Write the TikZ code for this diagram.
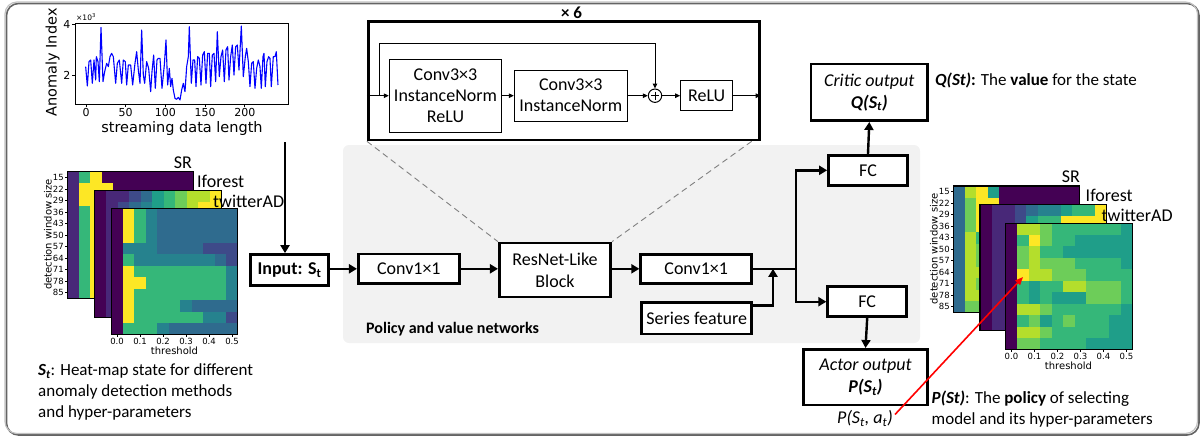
\documentclass[tikz,border=0pt]{standalone}
\usepackage{fontspec}
\setmainfont{Carlito}
\newfontfamily\mpl{DejaVu Sans}
\usepackage{tikz}
\usetikzlibrary{arrows.meta,calc,positioning}
\definecolor{v0}{HTML}{440154}
\definecolor{v1}{HTML}{482878}
\definecolor{v2}{HTML}{3E4A89}
\definecolor{v3}{HTML}{2F6B8E}
\definecolor{v4}{HTML}{26828E}
\definecolor{v5}{HTML}{1F9E89}
\definecolor{v6}{HTML}{35B779}
\definecolor{v7}{HTML}{6DCD59}
\definecolor{v8}{HTML}{B4DE2C}
\definecolor{v9}{HTML}{FDE725}
\definecolor{panelgray}{HTML}{F2F2F2}
\definecolor{framegray}{HTML}{A6A6A6}

% one heat-map panel: top-left corner, rows of colour levels
\newcommand{\hmap}[2]{%
  \begin{scope}[shift={#1}]
    \foreach \row [count=\hr from 0] in {#2}{
      \foreach \val [count=\hc from 0] in \row
        \fill[v\val] (\hc*11.5,\hr*11.5) rectangle ++(11.9,11.9);
    }
    \draw[line width=1.2pt] (0,0) rectangle (126.5,126.5);
  \end{scope}}

\begin{document}
\begin{tikzpicture}[x=1pt,y=-1pt,
    box/.style={draw, line width=2.7pt, fill=white, align=center, inner sep=2pt, font=\fontsize{18}{22}\selectfont},
    ibox/.style={draw, line width=1pt, fill=white, align=center, inner sep=2pt, font=\fontsize{18}{21}\selectfont},
    arr/.style={line width=2.4pt, -{Triangle[length=8pt,width=9pt]}},
    iarr/.style={line width=1pt, -{Triangle[length=5pt,width=4.5pt]}},
    note/.style={font=\fontsize{17}{21}\selectfont, align=left, inner sep=0pt},
    hlab/.style={font=\fontsize{18}{20}\selectfont, inner sep=0pt},
    tlab/.style={font=\mpl\fontsize{8.5}{9}\selectfont, inner sep=0pt},
    alab/.style={font=\mpl\fontsize{10}{11}\selectfont, inner sep=0pt}
  ]
  \useasboundingbox (0,0) rectangle (1204,442);

  % frame and network panel
  \draw[framegray!60!black, line width=1.6pt, rounded corners=12pt] (6.5,3.5) rectangle (1199,435);
  \draw[framegray!70, line width=1.2pt, rounded corners=12pt] (5,2) rectangle (1197.5,433.5);
  \fill[panelgray, rounded corners=6pt] (343,145) rectangle (920,343);

  % streaming data plot
  \draw[line width=0.7pt] (75,23) rectangle (288,104);
  \foreach \t [count=\k from 0] in {0,50,100,150,200}{
    \draw[line width=0.7pt] (86+\k*39.7,104) -- ++(0,3);
    \node[font=\mpl\fontsize{11}{12}\selectfont, inner sep=0pt, anchor=north] at (86+\k*39.7,108) {\t};
  }
  \foreach \t/\yy in {4/24,2/75}{
    \draw[line width=0.7pt] (75,\yy) -- ++(-3,0);
    \node[font=\mpl\fontsize{11}{12}\selectfont, inner sep=0pt, anchor=east] at (70.5,\yy) {\t};
  }
  \node[font=\mpl\fontsize{7.5}{8}\selectfont, inner sep=0pt, anchor=west] at (76,17.5) {×10\textsuperscript{3}};
  \node[font=\mpl\fontsize{14.5}{15}\selectfont, inner sep=0pt, rotate=90] (ylab) at (52.5,62.5) {Anomaly Index};
  \node[font=\mpl\fontsize{14.5}{15}\selectfont, inner sep=0pt] (xlab) at (182,128) {streaming data length};
  \begin{scope}[shift={(70,10)}, x=0.3333pt, y=-0.3333pt]
    \draw[blue, line width=1.1pt, line join=round] plot coordinates {(47,170)(52,228)(57,155)(62,150)(67,220)(72,150)(77,210)(79,140)(84,155)(88,215)(93,52)(99,215)(104,185)(110,160)(115,170)(120,140)(125,130)(130,140)(137,220)(142,160)(148,150)(155,220)(160,150)(166,155)(170,225)(175,165)(182,165)(188,225)(195,160)(200,125)(205,180)(210,220)(215,60)(220,195)(224,220)(230,155)(236,175)(242,245)(246,185)(251,135)(256,235)(261,150)(265,145)(270,145)(276,235)(283,165)(288,90)(293,225)(298,175)(302,230)(306,205)(310,240)(315,265)(320,268)(325,262)(330,270)(335,240)(340,220)(345,245)(350,170)(355,140)(358,50)(364,220)(369,150)(374,150)(378,230)(383,140)(388,145)(393,225)(398,135)(403,125)(408,220)(413,130)(418,130)(422,230)(427,135)(432,130)(437,215)(442,65)(448,200)(453,140)(458,120)(463,215)(468,120)(473,110)(477,210)(482,140)(487,105)(492,195)(497,110)(502,105)(507,180)(514,48)(520,200)(526,140)(530,115)(535,155)(540,230)(545,160)(550,155)(555,235)(560,175)(565,150)(570,170)(574,235)(579,140)(582,130)(586,230)(591,155)(596,140)(600,145)(604,230)(610,140)(615,140)(619,125)(624,225)};
  \end{scope}
  \coordinate (plotfoot) at (285,142);

  % input heat-maps
  \hmap{(67.3,171.7)}{{1,6,9,0,0,0,0,0,0,0,0},{1,9,9,9,0,0,0,0,0,0,0},{1,9,9,9,0,0,0,0,0,0,0},{1,6,9,9,0,0,0,0,0,0,0},{1,6,9,9,0,0,0,0,0,0,0},{1,6,9,9,0,0,0,0,0,0,0},{1,6,9,9,0,0,0,0,0,0,0},{1,6,9,9,0,0,0,0,0,0,0},{1,6,9,9,0,0,0,0,0,0,0},{1,6,9,9,0,0,0,0,0,0,0},{1,6,9,9,0,0,0,0,0,0,0}}
  \hmap{(94.7,190.7)}{{0,1,1,2,3,5,6,7,8,8,9},{0,1,2,3,4,5,6,7,8,9,9},{0,1,1,2,3,4,5,6,7,8,9},{0,1,1,2,3,4,5,6,7,8,9},{0,1,1,2,3,4,5,6,7,8,9},{0,1,1,2,3,4,5,6,7,8,9},{0,1,1,2,3,4,5,6,7,8,9},{0,1,1,2,3,4,5,6,7,8,9},{0,1,1,2,3,4,5,6,7,8,9},{0,1,1,2,3,4,5,6,7,8,9},{0,1,1,2,3,4,5,6,7,8,9}}
  \hmap{(111.3,208.3)}{{0,9,6,4,3,3,3,3,3,3,3},{0,9,6,4,3,3,3,3,3,3,3},{0,9,6,4,3,3,3,3,3,3,3},{0,4,4,4,3,3,3,3,2,2,2},{0,6,4,4,4,4,4,4,4,3,2},{0,9,6,6,6,6,6,6,6,6,4},{0,9,9,6,6,6,6,6,6,6,4},{0,9,6,6,6,6,6,6,6,6,4},{0,9,6,6,6,6,4,3,3,3,3},{0,9,6,6,6,6,6,6,4,4,2},{0,6,6,6,4,3,3,3,3,3,3}}
  \node[hlab, anchor=east] (srl) at (192,163) {SR};
  \node[hlab, anchor=west] (ifl) at (197,181) {Iforest};
  \node[hlab, anchor=west] (twl) at (213,201) {twitterAD};
  \foreach \w [count=\k from 0] in {15,22,29,36,43,50,57,64,71,78,85}{
    \draw[line width=0.6pt] (67.3,177.45+\k*11.5) -- ++(-2.5,0);
    \node[tlab, anchor=east] at (64,177.45+\k*11.5) {\w};
  }
  \foreach \t [count=\k from 0] in {0.0,0.1,0.2,0.3,0.4,0.5}{
    \draw[line width=0.6pt] (117.05+\k*23,334.8) -- ++(0,2.5);
    \node[tlab, anchor=north] at (117.05+\k*23,338) {\t};
  }
  \node[alab, rotate=90] (wsl) at (48,234.5) {detection window size};
  \node[alab] (thl) at (174.5,351) {threshold};
  \node[note, anchor=west] (stnote) at (38,392) {\textbf{\textit{S\textsubscript{t}}}: Heat-map state for different\\anomaly detection methods\\and hyper-parameters};

  % output heat-maps
  \hmap{(953.3,186)}{{3,8,9,5,0,0,0,0,0,0,0},{3,7,9,9,0,0,0,0,0,0,0},{3,7,9,9,0,0,0,0,0,0,0},{3,7,9,9,0,0,0,0,0,0,0},{3,8,6,6,0,0,0,0,0,0,0},{3,8,7,7,0,0,0,0,0,0,0},{3,8,7,7,0,0,0,0,0,0,0},{3,8,8,8,0,0,0,0,0,0,0},{3,8,7,7,0,0,0,0,0,0,0},{3,8,8,8,0,0,0,0,0,0,0},{3,7,7,7,0,0,0,0,0,0,0}}
  \hmap{(980,204.3)}{{0,1,1,2,3,4,4,5,6,6,9},{0,1,1,2,5,6,6,9,9,9,9},{0,1,1,2,3,4,5,6,7,8,9},{0,1,1,2,3,4,5,6,7,8,9},{0,1,1,2,3,4,5,6,7,8,9},{0,1,1,2,3,4,5,6,7,8,9},{0,1,1,2,3,4,5,6,7,8,9},{0,1,1,2,3,4,5,6,7,8,9},{0,1,1,2,3,4,5,6,7,8,9},{0,1,1,2,3,4,5,6,7,8,9},{0,1,1,2,3,4,5,6,7,8,9}}
  \hmap{(1005.7,223.3)}{{0,8,8,7,6,6,6,6,6,6,5},{0,6,9,7,6,6,5,5,5,5,5},{0,7,8,6,6,5,5,5,5,5,5},{0,7,8,7,7,7,6,6,6,6,5},{0,9,8,8,7,7,7,6,6,6,6},{0,6,5,6,6,8,8,7,7,7,6},{0,6,5,6,5,5,5,7,7,7,6},{0,8,8,7,6,6,6,6,6,6,5},{0,6,7,5,6,7,6,6,6,5,5},{0,8,8,7,6,6,6,6,6,5,5},{0,7,7,6,6,6,6,5,5,5,5}}
  \node[hlab, anchor=east] (srr) at (1080,177) {SR};
  \node[hlab, anchor=west] (ifr) at (1085.5,195) {Iforest};
  \node[hlab, anchor=west] (twr) at (1101.5,215) {twitterAD};
  \foreach \w [count=\k from 0] in {15,22,29,36,43,50,57,64,71,78,85}{
    \draw[line width=0.6pt] (953.3,191.75+\k*11.5) -- ++(-2.5,0);
    \node[tlab, anchor=east] at (950,191.75+\k*11.5) {\w};
  }
  \foreach \t [count=\k from 0] in {0.0,0.1,0.2,0.3,0.4,0.5}{
    \draw[line width=0.6pt] (1011.45+\k*23,349.8) -- ++(0,2.5);
    \node[tlab, anchor=north] at (1011.45+\k*23,353) {\t};
  }
  \node[alab, rotate=90] (wsr) at (934,249) {detection window size};
  \node[alab] (thr) at (1068.5,366) {threshold};
  \coordinate (peak) at (1023,277);

  % ResNet-like block, unrolled
  \node[draw, line width=2.7pt, minimum width=391pt, minimum height=118.3pt] (detail) at (563.8,80.85) {};
  \node[font=\bfseries\fontsize{17}{18}\selectfont, inner sep=0pt] (times) at (571.5,12.7) {× 6};
  \node[ibox, minimum width=112.4pt, minimum height=73.4pt] (cv1) at (445.5,95.7) {Conv3×3\\InstanceNorm\\ReLU};
  \node[ibox, minimum width=113pt, minimum height=51.4pt] (cv2) at (570.8,95.7) {Conv3×3\\InstanceNorm};
  \node[circle, draw, line width=1pt, minimum size=13.4pt, inner sep=0pt] (add) at (655,95.7) {};
  \draw[line width=0.9pt] ([yshift=4.2pt]add.center) -- ([yshift=-4.2pt]add.center)
    ([xshift=-4.2pt]add.center) -- ([xshift=4.2pt]add.center);
  \node[ibox, minimum width=52pt, minimum height=30pt] (relu) at (706.7,95.7) {ReLU};
  \coordinate (skip) at (379,95.7);
  \draw[iarr] (detail.west |- cv1.west) -- (cv1.west);
  \draw[iarr] (skip) -- ++(0,-52.4) -| (add.north);
  \draw[iarr] (cv1.east |- cv2.west) -- (cv2.west);
  \draw[iarr] (cv2.east) -- (add.west);
  \draw[iarr] (add.east) -- (relu.west);
  \draw[iarr] (relu.east) -- (relu.east -| detail.east);

  % policy and value networks
  \node[box, minimum width=78.3pt, minimum height=31pt] (input) at (289.5,270) {\textbf{Input: S\textsubscript{t}}};
  \node[box, minimum width=101pt, minimum height=29.5pt] (conv1) at (408.8,268.8) {Conv1×1};
  \node[box, minimum width=111.4pt, minimum height=54pt] (resnet) at (555,270) {ResNet-Like\\Block};
  \node[box, minimum width=111pt, minimum height=29.3pt] (conv2) at (696.2,268.8) {Conv1×1};
  \node[box, minimum width=110pt, minimum height=31.3pt] (series) at (696.7,318.4) {Series feature};
  \node[font=\bfseries\fontsize{16}{18}\selectfont, inner sep=0pt, anchor=west] (pvn) at (366,329) {Policy and value networks};
  \node[box, minimum width=79pt, minimum height=30.3pt] (fcq) at (868,170.3) {FC};
  \node[box, minimum width=79pt, minimum height=30pt] (fcp) at (867.2,301.7) {FC};
  \node[box, minimum width=116.7pt, minimum height=56.7pt] (critic) at (869.3,92.3) {\textit{Critic output}\\\textbf{\textit{Q(S\textsubscript{t})}}};
  \node[box, minimum width=124.4pt, minimum height=55.7pt] (actor) at (865.5,377.2) {\textit{Actor output}\\\textbf{\textit{P(S\textsubscript{t})}}};
  \node[font=\fontsize{18}{20}\selectfont, inner sep=0pt] (pst) at (865,418.5) {\textit{P(S\textsubscript{t}, a\textsubscript{t})}};
  \coordinate (split) at (796,268.8);
  \coordinate (merge) at (773,268.8);

  \draw[dashed, gray, line width=0.9pt, dash pattern=on 6pt off 4pt] (detail.south west) -- (resnet.north west);
  \draw[dashed, gray, line width=0.9pt, dash pattern=on 6pt off 4pt] ([xshift=-9pt]detail.south east) -- (resnet.north east);

  \draw[arr] (plotfoot) -- (plotfoot |- input.north);
  \draw[arr] (input.east |- conv1) -- (conv1.west);
  \draw[arr] (conv1.east) -- (conv1.east -| resnet.west);
  \draw[arr] (resnet.east |- conv2) -- (conv2.west);
  \draw[line width=2.4pt] (conv2.east) -- (split);
  \draw[arr] ([yshift=-4pt]series.north east) -| (merge);
  \draw[arr] (split) |- (fcq.west);
  \draw[arr] (split) |- (fcp.west);
  \draw[arr] (fcq.north) -- (critic.south);
  \draw[arr] (fcp.south) -- (actor.north);
  \draw[red, line width=1.6pt, -{Triangle[length=8pt,width=6.5pt]}] ([xshift=2pt,yshift=4pt]pst.east) -- (peak);

  % notes
  \node[note, anchor=west] (qnote) at (935,80) {\textbf{\textit{Q(St)}:} The \textbf{value} for the state};
  \node[note, anchor=west] (pnote) at (931.5,409) {\textbf{\textit{P(St)}}: The \textbf{policy} of selecting\\model and its hyper-parameters};
\end{tikzpicture}
\end{document}
